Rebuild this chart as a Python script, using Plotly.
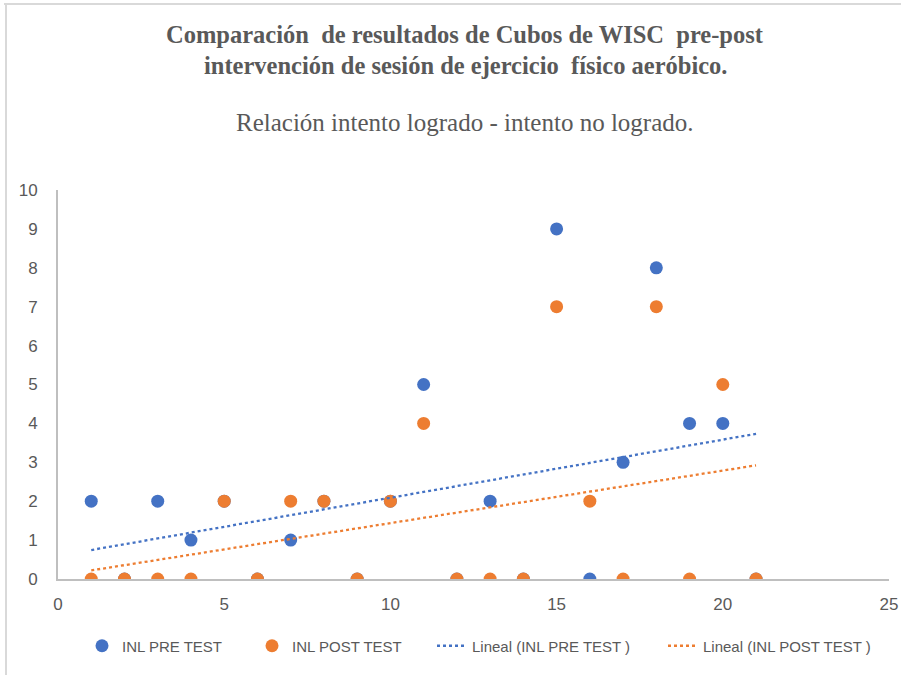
import numpy as np
import plotly.graph_objects as go

x_vals = list(range(1, 22))
pre_test = [2, 0, 2, 1, 2, 0, 1, 2, 0, 2, 5, 0, 2, 0, 9, 0, 3, 8, 4, 4, 0]
post_test = [0, 0, 0, 0, 2, 0, 2, 2, 0, 2, 4, 0, 0, 0, 7, 2, 0, 7, 0, 5, 0]

title_1 = "Comparación  de resultados de Cubos de WISC  pre-post"
title_2 = "intervención de sesión de ejercicio  físico aeróbico."
subtitle = "Relación intento logrado - intento no logrado."

BLUE = "#4472C4"
ORANGE = "#ED7D31"
GRAY = "#595959"

def trend(xs, ys):
    m, b = np.polyfit(xs, ys, 1)
    xe = [min(xs), max(xs)]
    return xe, [m * v + b for v in xe]

L, R, T, B = 58, 23, 190, 96
W, H = 912, 675
pw, ph = W - L - R, H - T - B
def px(p):
    return (p - L) / pw
def py(p):
    return (H - B - p) / ph

fig = go.Figure()
fig.add_trace(go.Scatter(x=x_vals, y=pre_test, mode="markers", name="INL PRE TEST",
                         marker=dict(color=BLUE, size=13), legend="legend"))
fig.add_trace(go.Scatter(x=x_vals, y=post_test, mode="markers", name="INL POST TEST",
                         marker=dict(color=ORANGE, size=13), legend="legend2"))
tx, ty = trend(x_vals, pre_test)
fig.add_trace(go.Scatter(x=tx, y=ty, mode="lines", name="Lineal (INL PRE TEST )",
                         line=dict(color=BLUE, width=2.3, dash="dot"), legend="legend3"))
tx, ty = trend(x_vals, post_test)
fig.add_trace(go.Scatter(x=tx, y=ty, mode="lines", name="Lineal (INL POST TEST )",
                         line=dict(color=ORANGE, width=2.3, dash="dot"), legend="legend4"))

leg_font = dict(family="Liberation Sans, Arial", size=15, color=GRAY)
def leg(text_start):
    return dict(orientation="h", x=px(text_start - 40), xanchor="left", y=py(646), yanchor="middle",
                font=leg_font, bgcolor="rgba(0,0,0,0)")

tick_font = dict(family="Liberation Sans, Arial", size=17, color=GRAY)
title_x = px(465)
fig.update_layout(
    width=W, height=H,
    margin=dict(l=L, r=R, t=T, b=B),
    paper_bgcolor="white", plot_bgcolor="white",
    showlegend=True,
    legend=leg(122), legend2=leg(292), legend3=leg(472), legend4=leg(703),
    xaxis=dict(range=[0, 25], tickvals=[0, 5, 10, 15, 20, 25], showgrid=False, zeroline=False,
               showline=True, linecolor="#BFBFBF", linewidth=2, ticks="",
               tickfont=tick_font, ticklabelstandoff=9),
    yaxis=dict(range=[0, 10], dtick=1, showgrid=False, zeroline=False,
               showline=True, linecolor="#BFBFBF", linewidth=2, ticks="",
               tickfont=tick_font, ticklabelstandoff=15),
    annotations=[
        dict(text="<b>" + title_1 + "</b>", x=title_x, xref="paper", y=py(35), yref="paper",
             xanchor="center", yanchor="middle", showarrow=False,
             font=dict(family="Liberation Serif, Times New Roman", size=24.5, color=GRAY)),
        dict(text="<b>" + title_2 + "</b>", x=title_x, xref="paper", y=py(66), yref="paper",
             xanchor="center", yanchor="middle", showarrow=False,
             font=dict(family="Liberation Serif, Times New Roman", size=24.5, color=GRAY)),
        dict(text=subtitle, x=title_x, xref="paper", y=py(123), yref="paper",
             xanchor="center", yanchor="middle", showarrow=False,
             font=dict(family="Liberation Serif, Times New Roman", size=25, color=GRAY)),
    ],
    shapes=[
        dict(type="line", xref="paper", yref="paper", x0=px(4), x1=px(901), y0=py(4), y1=py(4),
             line=dict(color="#D9D9D9", width=2)),
        dict(type="line", xref="paper", yref="paper", x0=px(6), x1=px(6), y0=py(4), y1=py(675),
             line=dict(color="#D9D9D9", width=2)),
    ],
)
fig.write_html("out.html", config={"displayModeBar": False},
               post_script="document.body.style.margin='0';")
